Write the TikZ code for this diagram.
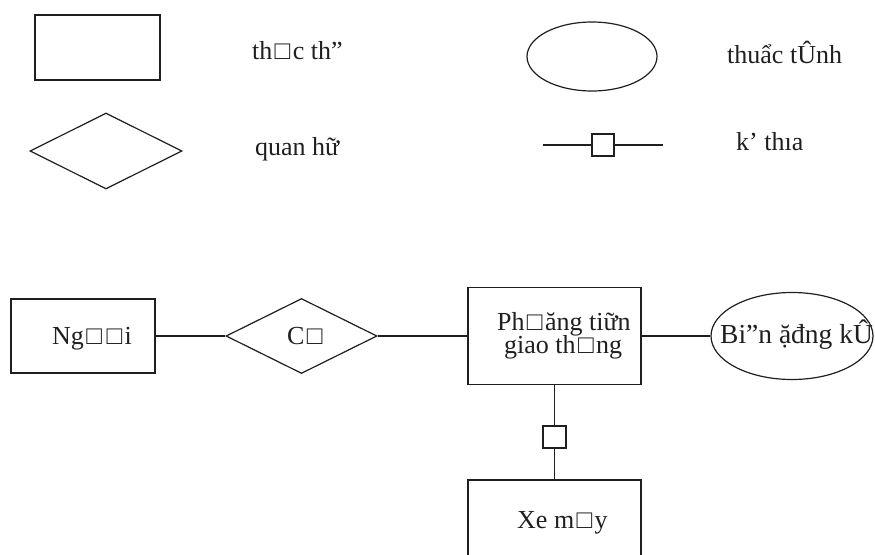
\documentclass[tikz,border=0pt]{standalone}
\usepackage{fontspec}
\setmainfont{Liberation Serif}
\usetikzlibrary{shapes.geometric}
% the hollow square glyph, with a little air on each side
\newcommand\hsq{\kern0.09em□\kern0.09em}
\tikzset{
  base/.style={draw=black!88, line width=1.2pt, inner sep=0pt},
  entity/.style={base, rectangle},
  relation/.style={base, diamond},
  attrib/.style={base, ellipse},
  keybox/.style={base, rectangle, minimum width=22pt, minimum height=22pt},
  link/.style={draw=black!88, line width=1.2pt},
  lbl/.style={anchor=base west, inner sep=0pt, font=\fontsize{26}{30}\selectfont, text=black!88},
}
\begin{document}
\begin{tikzpicture}[x=1pt,y=-1pt]
\useasboundingbox (0,0) rectangle (875,554);
\clip (0,0) rectangle (875,554);

% legend
\node[entity, minimum width=125pt, minimum height=65pt] (lgE) at (97.5,47.5) {};
\node[lbl] (lgEt) at (252,59) {th\hsq c th”};
\node[relation, minimum width=152pt, minimum height=76pt] (lgR) at (106,151) {};
\node[lbl] (lgRt) at (255,155) {quan hữ};
\node[attrib, minimum width=130pt, minimum height=69pt] (lgA) at (592,56.5) {};
\node[lbl] (lgAt) at (727,63) {thuẩc tÛnh};
\coordinate (lgL1) at (543,145);
\coordinate (lgL2) at (663,145);
\node[keybox] (lgK) at (603,145) {};
\draw[link] (lgL1) -- (lgK.west);
\draw[link] (lgK.east) -- (lgL2);
\node[lbl] (lgKt) at (736,150) {k’ thıa};

% diagram
\node[entity, minimum width=144pt, minimum height=74pt] (nguoi) at (83,336) {};
\node[lbl] at (52,344) {Ng\hsq\hsq i};
\node[relation, minimum width=151pt, minimum height=75pt] (co) at (301.5,336) {};
\node[lbl] at (287,344) {C\hsq};
\node[entity, minimum width=173pt, minimum height=97pt] (ptgt) at (554.5,336) {};
\node[lbl] at (497,330) {Ph\hsq ăng tiữn};
\node[lbl] at (504,353) {giao th\hsq ng};
\node[attrib, minimum width=162pt, minimum height=87pt] (bks) at (792,336) {};
\node[lbl, font=\fontsize{27.5}{30}\selectfont] at (720,343) {Bi”n ặđng kÛ};
\node[keybox, minimum width=23pt] (key) at (554.5,437) {};
\node[entity, minimum width=173pt, minimum height=100pt] (xemay) at (554.5,530) {};
\node[lbl] at (517,528) {Xe m\hsq y};

\draw[link] (nguoi.east) -- (co.west);
\draw[link] (co.east) -- (ptgt.west);
\draw[link] (ptgt.east) -- (bks.west);
\draw[link] (ptgt.south) -- (key.north);
\draw[link] (key.south) -- (xemay.north);
\end{tikzpicture}
\end{document}
